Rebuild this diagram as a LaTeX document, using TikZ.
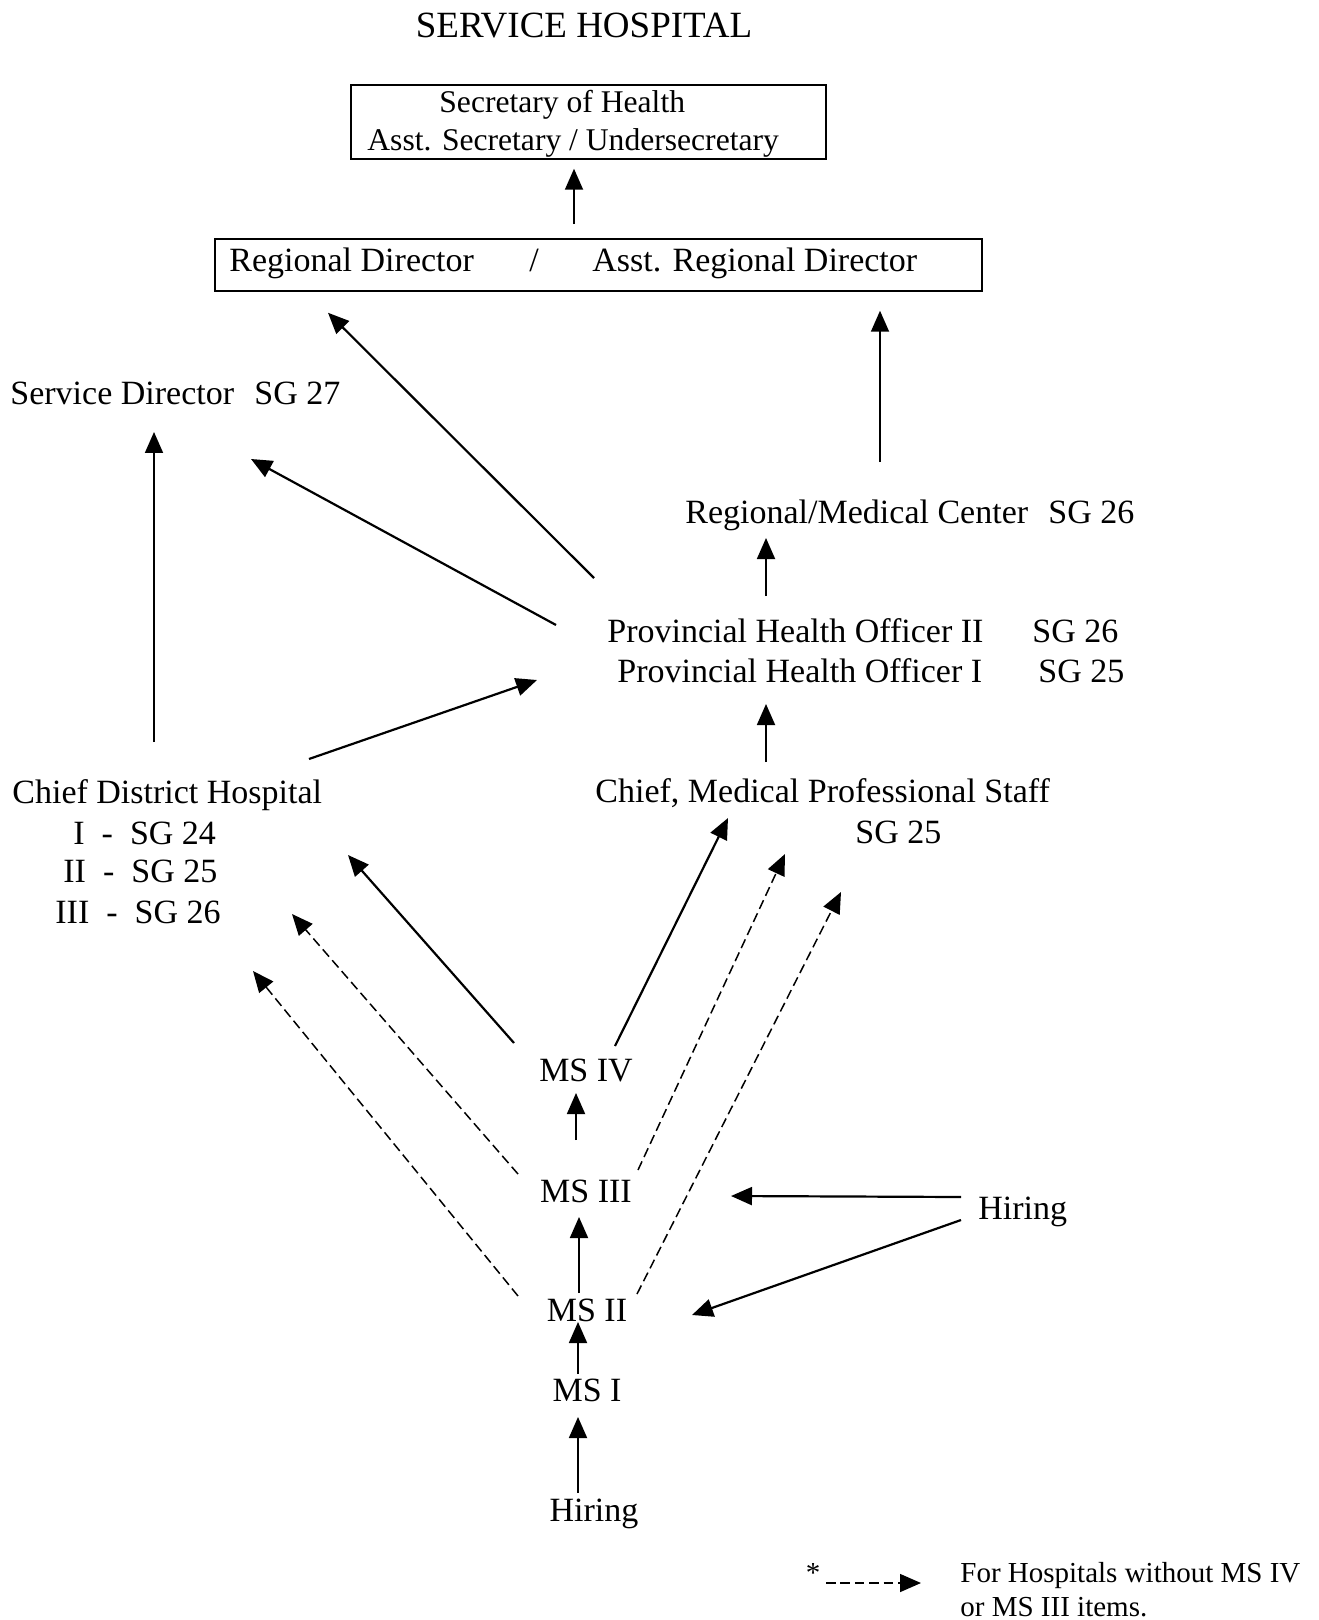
\documentclass[tikz,border=0pt]{standalone}
\usepackage{fontspec}
\setmainfont{Liberation Serif}
\usetikzlibrary{arrows.meta,calc}
\begin{document}
\begin{tikzpicture}[x=0.5pt,y=-0.5pt,
  lbl/.style={inner sep=0pt, font=\fontsize{17}{20}\selectfont},
  boxtxt/.style={inner sep=0pt, font=\fontsize{15.8}{19}\selectfont},
  legtxt/.style={inner sep=0pt, font=\fontsize{14.5}{17}\selectfont},
  frame/.style={draw, line width=0.75pt, inner sep=0pt},
  arr/.style={line width=1.1pt, -{Triangle[length=10.5pt,width=9pt]}},
  varr/.style={line width=0.9pt, -{Triangle[length=10.5pt,width=9pt]}},
  darr/.style={line width=0.75pt, dash pattern=on 4.8pt off 2.4pt, -{Triangle[length=10.5pt,width=9pt]}}]
\useasboundingbox (0,0) rectangle (1318,1620);

% title
\node[inner sep=0pt, font=\fontsize{18.5}{22}\selectfont, anchor=base] (title) at (584,38) {SERVICE HOSPITAL};

% top box
\node[frame, minimum width=237.5pt, minimum height=37pt] (secbox) at (588.5,122) {};
\node[boxtxt, anchor=base west] (sec1) at (439,113) {Secretary of Health};
\node[boxtxt, anchor=base west] (sec2) at (367,151) {Asst. Secretary / Undersecretary};

% regional director box
\node[frame, minimum width=383.5pt, minimum height=26pt] (rdbox) at (598.5,265) {};
\node[lbl, anchor=base west] (rd1) at (229,272) {Regional Director};
\node[lbl, anchor=base] (rdslash) at (534,272) {/};
\node[lbl, anchor=base west] (rd2) at (592,272) {Asst. Regional Director};

% service director
\node[lbl, anchor=base west] (sd) at (10,405) {Service Director};
\node[lbl, anchor=base west] (sdsg) at (254,405) {SG 27};

% regional / medical center
\node[lbl, anchor=base west] (rmc) at (685,523) {Regional/Medical Center};
\node[lbl, anchor=base west] (rmcsg) at (1048,523) {SG 26};

% provincial health officer
\node[lbl, anchor=base west] (pho1) at (607,642) {Provincial Health Officer II};
\node[lbl, anchor=base west] (pho1sg) at (1032,642) {SG 26};
\node[lbl, anchor=base west] (pho2) at (617,682) {Provincial Health Officer I};
\node[lbl, anchor=base west] (pho2sg) at (1038,682) {SG 25};

% chief medical professional staff
\node[lbl, anchor=base west] (cmp) at (595,802) {Chief, Medical Professional Staff};
\node[lbl, anchor=base west] (cmpsg) at (855,843) {SG 25};

% chief district hospital
\node[lbl, anchor=base west] (cdh) at (12,803) {Chief District Hospital};
\node[lbl, anchor=base west] (cdh1) at (73,844) {I\hspace{8.5pt}-\hspace{8.5pt}SG 24};
\node[lbl, anchor=base west] (cdh2) at (63,882) {II\hspace{8.5pt}-\hspace{8.5pt}SG 25};
\node[lbl, anchor=base west] (cdh3) at (55,923) {III\hspace{8.5pt}-\hspace{8.5pt}SG 26};

% MS ladder
\node[lbl, anchor=base] (ms4) at (586,1081) {MS IV};
\node[lbl, anchor=base] (ms3) at (586,1202) {MS III};
\node[lbl, anchor=base] (ms2) at (587,1321) {MS II};
\node[lbl, anchor=base] (ms1) at (587,1401) {MS I};
\node[lbl, anchor=base] (hire1) at (594,1521) {Hiring};
\node[lbl, anchor=base west] (hire2) at (978,1219) {Hiring};

% legend
\node[legtxt, anchor=base] (star) at (813,1582) {*};
\node[legtxt, anchor=base west] (leg1) at (960,1582) {For Hospitals without MS IV};
\node[legtxt, anchor=base west] (leg2) at (960,1616) {or MS III items.};

% connectors
\draw[varr] ($(rdbox.north)+(-24.5,-14)$) -- ($(secbox.south)+(-14.5,9)$);
\draw[arr] ($(pho1.base west)+(-13,-64)$) -- ($(rdbox.south)+(-270.5,21)$);
\draw[arr] ($(pho1.base west)+(-51,-17)$) -- ($(sd.base west)+(241,54)$);
\draw[varr] ($(cdh.base west)+(142,-61)$) -- ($(sd.base west)+(144,27)$);
\draw[arr] ($(cdh.base west)+(297,-44)$) -- ($(pho2.base west)+(-80,-2)$);
\draw[varr] ($(rmc.base west)+(195,-61)$) -- ($(rdbox.south)+(281.5,19)$);
\draw[varr] ($(pho1.base west)+(159,-46)$) -- ($(rmc.base west)+(81,15)$);
\draw[varr] ($(cmp.base west)+(171,-40)$) -- ($(pho2.base west)+(149,22)$);

\draw[arr] ($(ms4.base)+(-72,-38)$) -- ($(cdh.base west)+(336,52)$);
\draw[arr] ($(ms4.base)+(29,-35)$) -- ($(cmp.base west)+(133,16)$);
\draw[varr] ($(ms3.base)+(-10,-62)$) -- ($(ms4.base)+(-10,12)$);
\draw[darr] ($(ms3.base)+(-68,-28)$) -- ($(cdh.base west)+(280,111)$);
\draw[darr] ($(ms3.base)+(52,-32)$) -- ($(cmp.base west)+(190,52)$);
\draw[varr] ($(ms2.base)+(-8,-28)$) -- ($(ms3.base)+(-7,15)$);
\draw[darr] ($(ms2.base)+(-69,-25)$) -- ($(cdh.base west)+(241,168)$);
\draw[darr] ($(ms2.base)+(50,-27)$) -- ($(cmp.base west)+(246,90)$);
\draw[varr] ($(ms1.base)+(-9,-27)$) -- ($(ms2.base)+(-9,1)$);
\draw[varr] ($(hire1.base)+(-16,-28)$) -- ($(ms1.base)+(-9,16)$);
\draw[arr] ($(hire2.base west)+(-17,-22)$) -- ($(ms3.base)+(145,-6)$);
\draw[arr] ($(hire2.base west)+(-17,1)$) -- ($(ms2.base)+(105,-6)$);

\draw[darr] ($(star.base)+(13,1)$) -- ($(leg1.base west)+(-39,1)$);
\end{tikzpicture}
\end{document}
